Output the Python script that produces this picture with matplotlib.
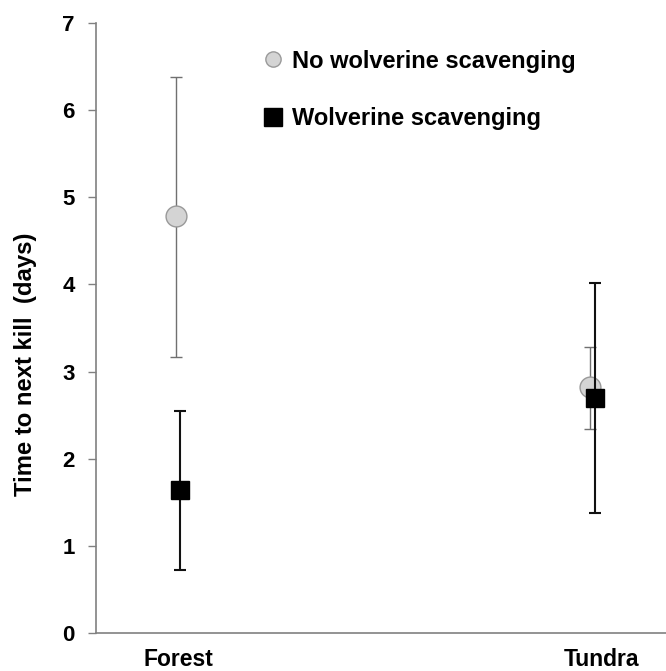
import matplotlib
matplotlib.use("Agg")
import matplotlib.pyplot as plt
from matplotlib.lines import Line2D
import matplotlib.transforms as mtransforms

plt.rcParams['font.family'] = ['Liberation Sans', 'DejaVu Sans']

categories = ["Forest", "Tundra"]
no_wolv_mean = [4.78, 2.82]
no_wolv_low = [3.17, 2.34]
no_wolv_high = [6.38, 3.28]
wolv_mean = [1.64, 2.70]
wolv_low = [0.72, 1.38]
wolv_high = [2.55, 4.02]
yticks = [0, 1, 2, 3, 4, 5, 6, 7]

fig = plt.figure(figsize=(6.66, 6.71), dpi=100)
ax = fig.add_axes([96/666, 38/671, 570/666, 610/671])

xpos = [1.0, 2.0]
off = 0.0052
x_nw = [x - off for x in xpos]
x_w = [x + off for x in xpos]

err_nw = [[m - l for m, l in zip(no_wolv_mean, no_wolv_low)],
          [h - m for m, h in zip(no_wolv_mean, no_wolv_high)]]
err_w = [[m - l for m, l in zip(wolv_mean, wolv_low)],
         [h - m for m, h in zip(wolv_mean, wolv_high)]]

ax.errorbar(x_nw, no_wolv_mean, yerr=err_nw, fmt='o', ms=15, mfc='#d4d4d4',
            mec='#999999', mew=1, ecolor='#707070', elinewidth=1.0, capsize=4.5,
            capthick=1.0, zorder=3)
ax.errorbar(x_w, wolv_mean, yerr=err_w, fmt='s', ms=13.5, mfc='black',
            mec='black', ecolor='#111111', elinewidth=1.5, capsize=4,
            capthick=1.5, zorder=4)

ax.set_xlim(0.8014, 2.1774)
ax.set_ylim(0, 7)
ax.set_yticks(yticks)
ax.set_yticklabels([str(t) for t in yticks], fontsize=16, fontweight='bold')
ax.set_xticks(xpos)
ax.set_xticklabels(categories, fontsize=16.5, fontweight='bold')
ax.tick_params(axis='x', length=0, pad=11)
ax.tick_params(axis='y', length=5.8, width=1, color='#808080', pad=9.4)
lbls = ax.get_xticklabels()
lbls[1].set_transform(lbls[1].get_transform() +
                      mtransforms.ScaledTranslation(0.085, 0, fig.dpi_scale_trans))

for s in ['top', 'right']:
    ax.spines[s].set_visible(False)
for s in ['left', 'bottom']:
    ax.spines[s].set_color('#808080')
    ax.spines[s].set_linewidth(1.2)

ax.set_ylabel("Time to next kill  (days)", fontsize=17.2, fontweight='bold')
ax.yaxis.set_label_coords(-(96 - 37) / 570, 0.441)

handles = [
    Line2D([], [], marker='o', ls='none', ms=11, mfc='#d4d4d4', mec='#999999'),
    Line2D([], [], marker='s', ls='none', ms=13, mfc='black', mec='black'),
]
ax.legend(handles, ["No wolverine scavenging", "Wolverine scavenging"],
          loc='upper left', bbox_to_anchor=(0.273, 0.972), frameon=False,
          prop={'size': 17, 'weight': 'bold'}, handletextpad=0.3,
          labelspacing=1.48, handlelength=1.0, borderaxespad=0)

fig.savefig("out.png", dpi=100)
